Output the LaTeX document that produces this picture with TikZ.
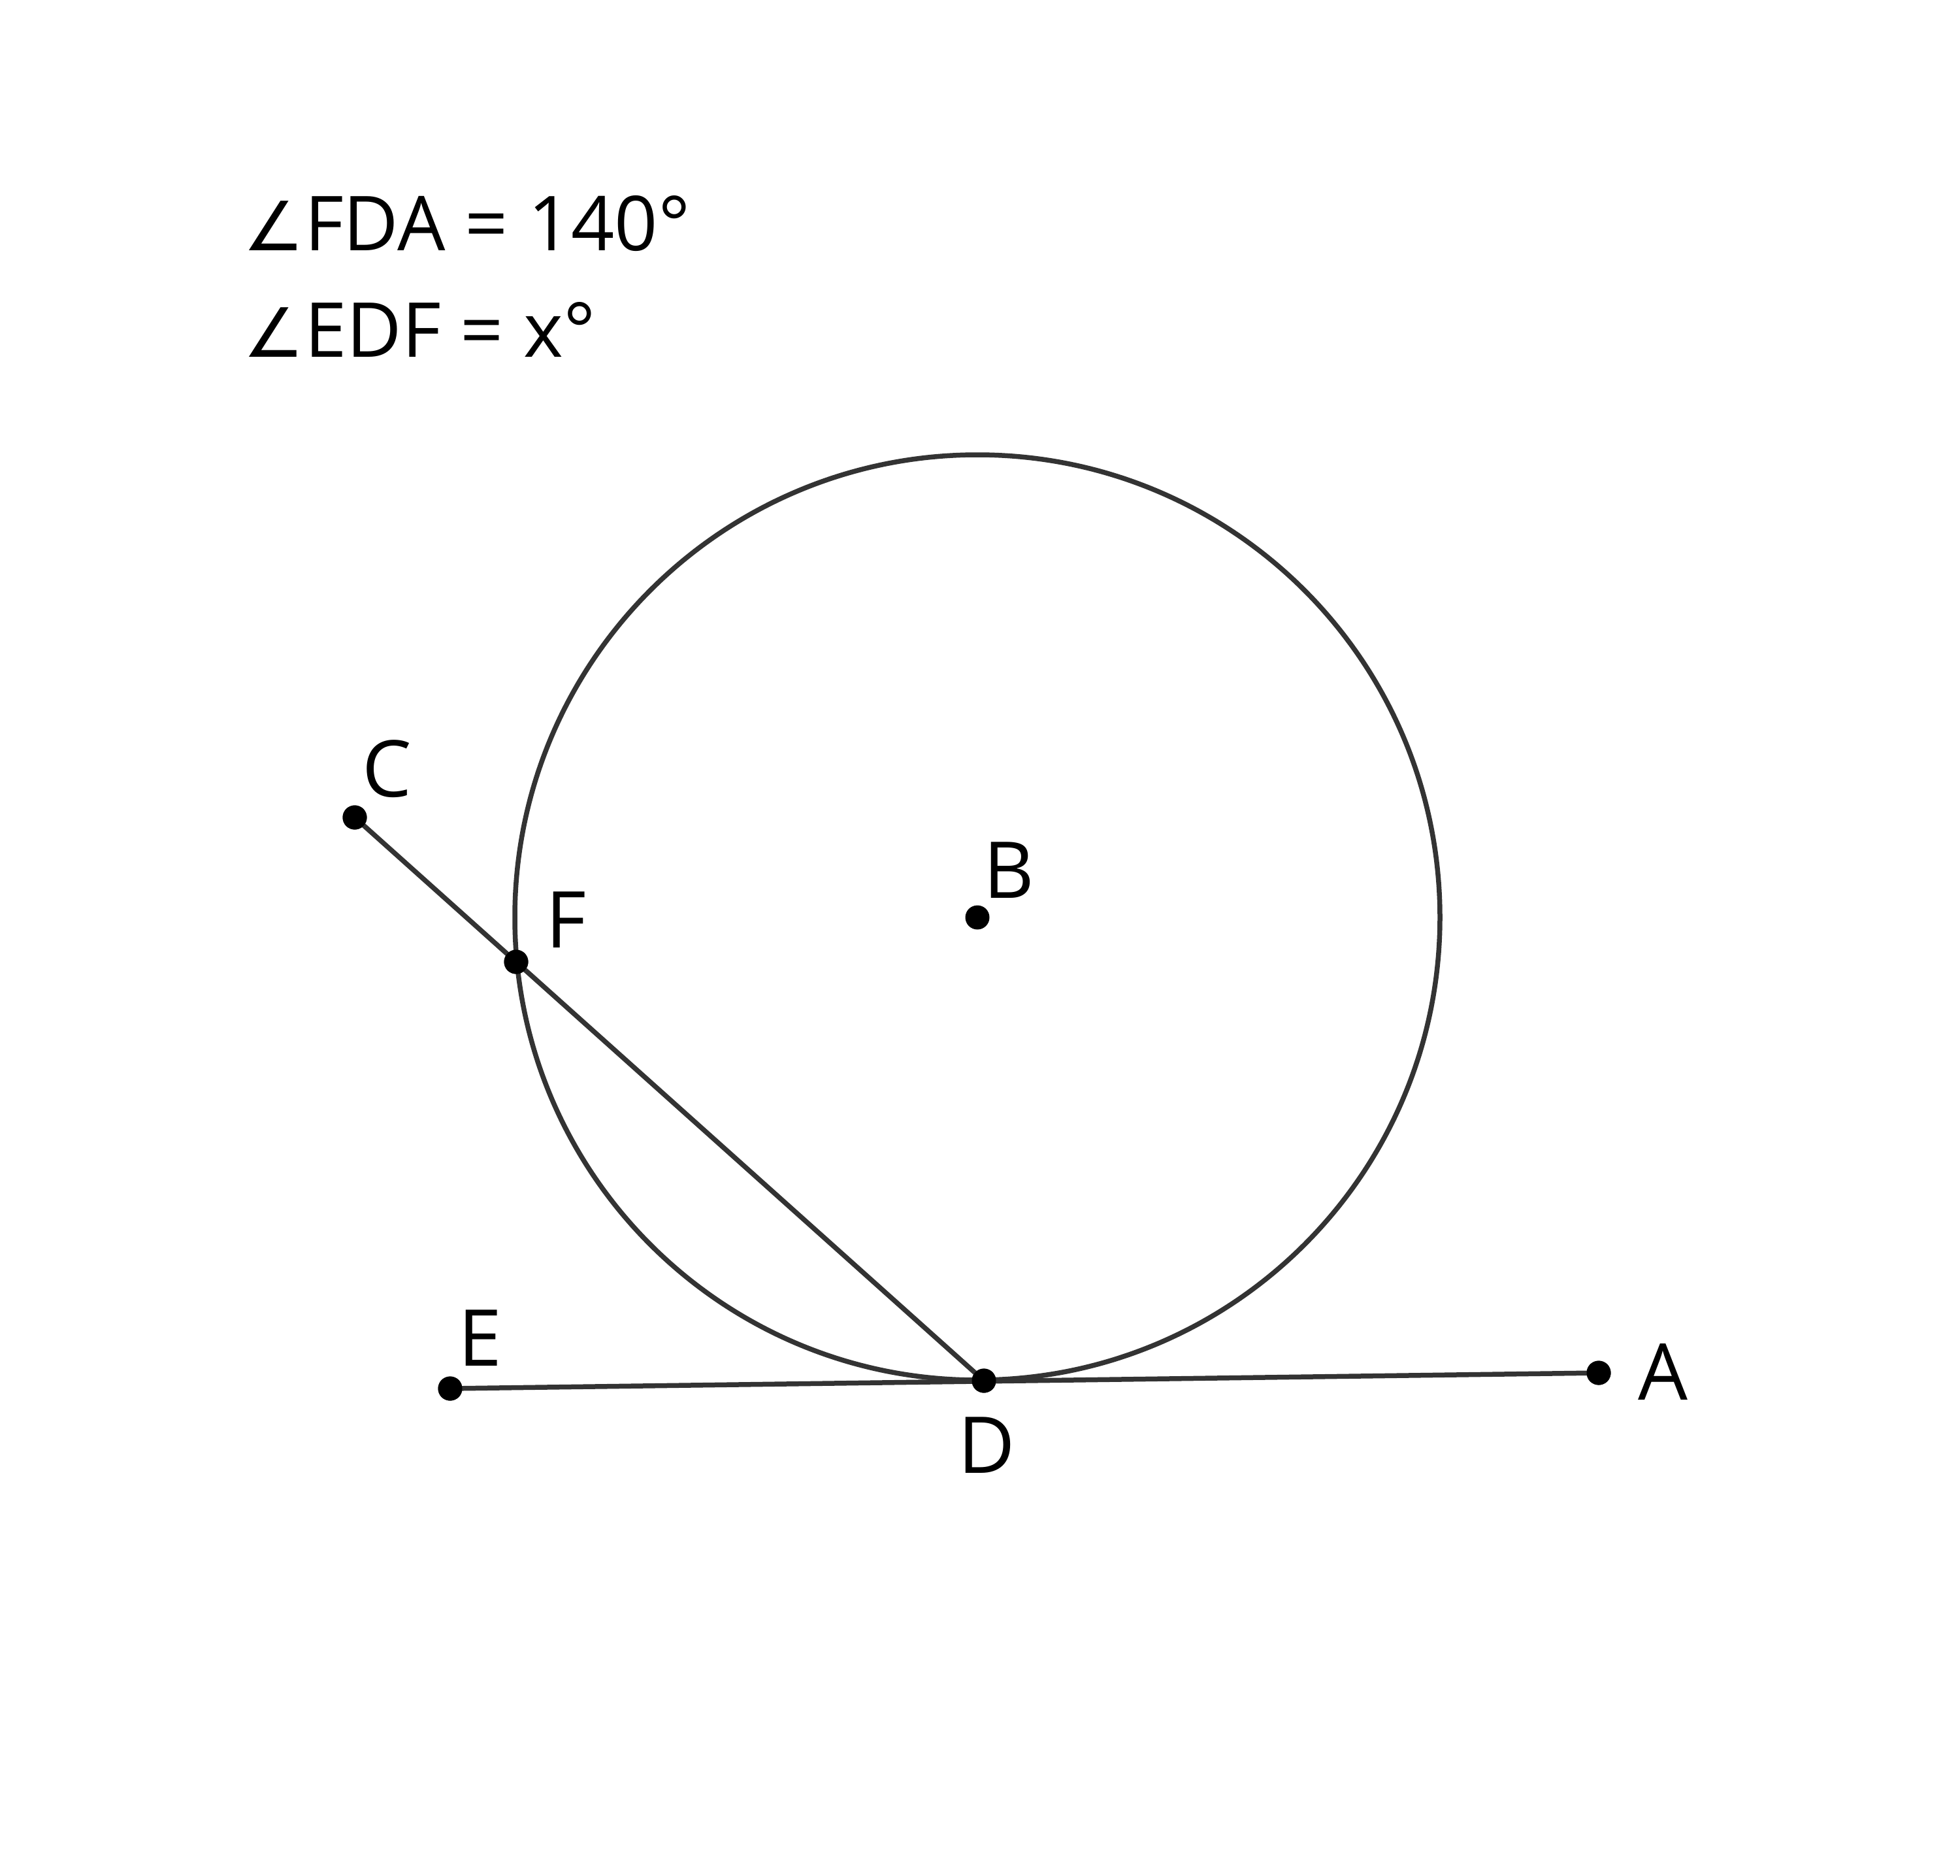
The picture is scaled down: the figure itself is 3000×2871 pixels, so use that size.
\documentclass[tikz,border=0pt]{standalone}
\usepackage{fontspec}
\setmainfont{Open Sans}
\newfontfamily\dejavu{DejaVu Sans}
\definecolor{ln}{HTML}{333333}
\begin{document}
\begin{tikzpicture}[x=0.25pt,y=-0.25pt,
  geo/.style={draw=ln,line width=7.5*0.25pt},
  pt/.style={circle,fill=black,inner sep=0pt,minimum size=37*0.25pt},
  lbl/.style={font=\fontsize{30pt}{36pt}\selectfont,inner sep=0pt},
  info/.style={font=\fontsize{29pt}{34pt}\selectfont,inner sep=0pt,anchor=base west}]
\useasboundingbox[fill=white] (0,0) rectangle (3000,2871);
\coordinate (Bc) at (1496,1404);
\draw[geo] (Bc) circle[radius=708*0.25pt];
\node[pt] (A) at (2447,2101) {};
\node[pt] (B) at (1496,1404) {};
\node[pt] (C) at (543,1251) {};
\node[pt] (D) at (1506,2113) {};
\node[pt] (E) at (689,2125) {};
\node[pt] (F) at (790,1472) {};
\draw[geo] (E.center) -- (A.center);
\draw[geo] (C.center) -- (D.center);
\node[pt] at (A) {};
\node[pt] at (C) {};
\node[pt] at (D) {};
\node[pt] at (E) {};
\node[pt] at (F) {};
\node[lbl] (lA) at (2545,2099) {A};
\node[lbl] (lB) at (1544,1332) {B};
\node[lbl] (lC) at (592,1177) {C};
\node[lbl] (lD) at (1510,2212) {D};
\node[lbl] (lE) at (735,2048) {E};
\node[lbl] (lF) at (866,1408) {F};
\node[info] (t1) at (372,383) {{\dejavu\fontsize{26pt}{30pt}\selectfont ∠}FDA = 140°};
\node[info] (t2) at (372,546) {{\dejavu\fontsize{26pt}{30pt}\selectfont ∠}EDF = x°};
\end{tikzpicture}
\end{document}
